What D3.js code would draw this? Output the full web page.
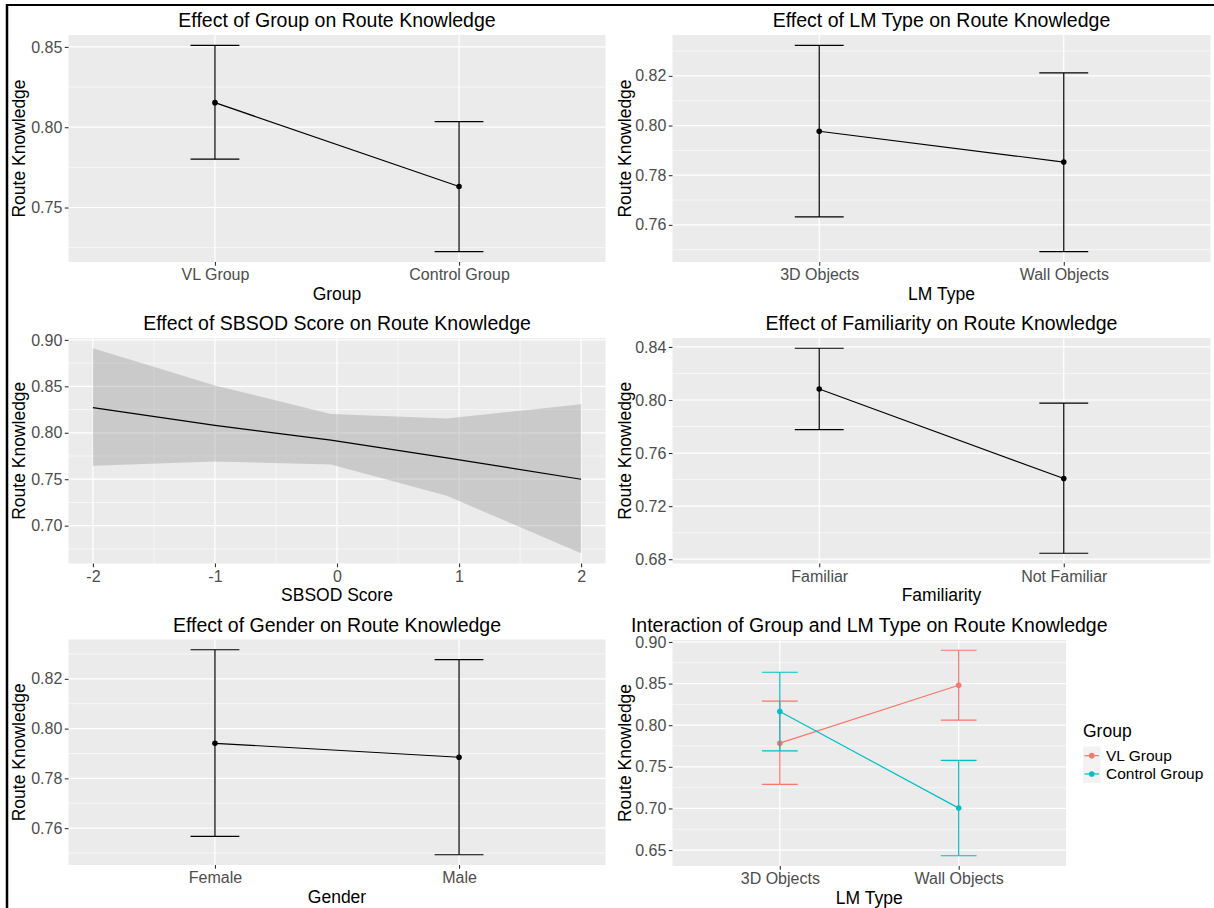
<!DOCTYPE html>
<html>
<head>
<meta charset="utf-8">
<script src="https://cdn.jsdelivr.net/npm/d3@7"></script>
<style>
  body { margin: 0; background: #fff; }
  text { font-family: "Liberation Sans", Arial, sans-serif; }
</style>
</head>
<body>
<div id="chart"></div>
<script>
// effect estimates
const groupCats = ["VL Group", "Control Group"];
const groupFit = [0.8153, 0.7631];
const groupLower = [0.7801, 0.7225];
const groupUpper = [0.8510, 0.8035];
const groupTicks = [0.75, 0.80, 0.85];

const lmCats = ["3D Objects", "Wall Objects"];
const lmFit = [0.7977, 0.7853];
const lmLower = [0.7632, 0.7492];
const lmUpper = [0.8323, 0.8212];
const lmTicks = [0.76, 0.78, 0.80, 0.82];

const sbsodX = [-2, -1, -0.05, 0.9, 2];
const sbsodFit = [0.827, 0.808, 0.792, 0.773, 0.750];
const sbsodLower = [0.7645, 0.7692, 0.7659, 0.7321, 0.6703];
const sbsodUpper = [0.8910, 0.8510, 0.8202, 0.8155, 0.8306];
const sbsodXTicks = [-2, -1, 0, 1, 2];
const sbsodTicks = [0.70, 0.75, 0.80, 0.85, 0.90];

const famCats = ["Familiar", "Not Familiar"];
const famFit = [0.8083, 0.7408];
const famLower = [0.7776, 0.6845];
const famUpper = [0.8390, 0.7977];
const famTicks = [0.68, 0.72, 0.76, 0.80, 0.84];

const genderCats = ["Female", "Male"];
const genderFit = [0.7941, 0.7885];
const genderLower = [0.7567, 0.7493];
const genderUpper = [0.8317, 0.8277];
const genderTicks = [0.76, 0.78, 0.80, 0.82];

// interaction Group x LM Type
const interGroups = ["VL Group", "Control Group"];
const interColors = ["#F8766D", "#00BFC4"];
const vlFit = [0.7784, 0.8480];
const vlLower = [0.7288, 0.8060];
const vlUpper = [0.8289, 0.8900];
const ctrlFit = [0.8164, 0.7004];
const ctrlLower = [0.7692, 0.6432];
const ctrlUpper = [0.8636, 0.7577];
const interTicks = [0.65, 0.70, 0.75, 0.80, 0.85, 0.90];

const W = 1214, H = 908;
const svg = d3.select("#chart").append("svg").attr("width", W).attr("height", H);

// outer frame (top and left edges visible)
svg.append("line").attr("x1", 6).attr("x2", W).attr("y1", 5).attr("y2", 5)
  .attr("stroke", "#000").attr("stroke-width", 2);
svg.append("line").attr("x1", 7).attr("x2", 7).attr("y1", 4).attr("y2", H)
  .attr("stroke", "#000").attr("stroke-width", 2.5);

// set up one ggplot-like panel, returns the y scale and a group to draw in
function panel(box, title, xTitle, lo, hi, yTicks, xScale, xTicks, minorX) {
  const pad = (hi - lo) * 0.05;
  const y = d3.scaleLinear().domain([lo - pad, hi + pad]).range([box.b, box.t]);
  const g = svg.append("g");

  g.append("rect").attr("x", box.l).attr("y", box.t)
    .attr("width", box.r - box.l).attr("height", box.b - box.t).attr("fill", "#EBEBEB");

  // minor horizontal grid
  const step = yTicks[1] - yTicks[0];
  const minors = [yTicks[0] - step / 2].concat(yTicks.map(t => t + step / 2))
    .filter(v => v > y.domain()[0] && v < y.domain()[1]);
  g.selectAll(".minorY").data(minors).join("line")
    .attr("x1", box.l).attr("x2", box.r)
    .attr("y1", d => y(d)).attr("y2", d => y(d))
    .attr("stroke", "#fff").attr("stroke-width", 0.6);
  if (minorX) {
    g.selectAll(".minorX").data(minorX).join("line")
      .attr("y1", box.t).attr("y2", box.b)
      .attr("x1", d => xScale(d)).attr("x2", d => xScale(d))
      .attr("stroke", "#fff").attr("stroke-width", 0.6);
  }
  g.selectAll(".majorY").data(yTicks).join("line")
    .attr("x1", box.l).attr("x2", box.r)
    .attr("y1", d => y(d)).attr("y2", d => y(d))
    .attr("stroke", "#fff").attr("stroke-width", 1.2);
  g.selectAll(".majorX").data(xTicks).join("line")
    .attr("y1", box.t).attr("y2", box.b)
    .attr("x1", d => xScale(d)).attr("x2", d => xScale(d))
    .attr("stroke", "#fff").attr("stroke-width", 1.2);

  // axes
  const yAxis = g.append("g").attr("transform", `translate(${box.l},0)`)
    .call(d3.axisLeft(y).tickValues(yTicks).tickFormat(d3.format(".2f")).tickSize(3.7).tickPadding(2.5));
  const xAxis = g.append("g").attr("transform", `translate(0,${box.b})`)
    .call(d3.axisBottom(xScale).tickValues(xTicks).tickFormat(d => String(d).replace("-", "-")).tickSize(3.7).tickPadding(3));
  [yAxis, xAxis].forEach(a => {
    a.select(".domain").remove();
    a.selectAll(".tick line").attr("stroke", "#333333").attr("stroke-width", 1.1);
    a.selectAll(".tick text").attr("fill", "#4D4D4D").style("font-size", "16px")
      .style("font-family", '"Liberation Sans", Arial, sans-serif');
  });

  // titles
  const cx = (box.l + box.r) / 2;
  svg.append("text").attr("x", cx).attr("y", box.t - 8).attr("text-anchor", "middle")
    .style("font-size", "19.5px").attr("fill", "#000").text(title);
  svg.append("text").attr("x", cx).attr("y", box.b + 37.5).attr("text-anchor", "middle")
    .style("font-size", "17.5px").attr("fill", "#000").text(xTitle);
  const ty = (box.t + box.b) / 2;
  svg.append("text").attr("transform", `translate(${box.yt},${ty}) rotate(-90)`)
    .attr("text-anchor", "middle").style("font-size", "17.5px").attr("fill", "#000")
    .text("Route Knowledge");

  return { y, g };
}

function effectPanel(box, title, xTitle, cats, fit, lower, upper, yTicks, color) {
  const x = d3.scalePoint().domain(cats).range([box.l, box.r]).padding(0.6);
  const p = panel(box, title, xTitle, d3.min(lower), d3.max(upper), yTicks, x, cats);
  drawSeries(p.g, x, p.y, cats, fit, lower, upper, color || "#000");
}

function drawSeries(g, x, y, cats, fit, lower, upper, color) {
  const hw = x.step() * 0.1;
  const rows = cats.map((c, i) => ({ c, f: fit[i], lo: lower[i], hi: upper[i] }));
  g.append("path").datum(rows)
    .attr("d", d3.line().x(d => x(d.c)).y(d => y(d.f)))
    .attr("fill", "none").attr("stroke", color).attr("stroke-width", 1.2);
  const eb = g.append("g").attr("stroke", color).attr("stroke-width", 1.2).attr("fill", "none");
  eb.selectAll(".v").data(rows).join("line")
    .attr("x1", d => x(d.c)).attr("x2", d => x(d.c))
    .attr("y1", d => y(d.lo)).attr("y2", d => y(d.hi));
  eb.selectAll(".top").data(rows).join("line")
    .attr("x1", d => x(d.c) - hw).attr("x2", d => x(d.c) + hw)
    .attr("y1", d => y(d.hi)).attr("y2", d => y(d.hi));
  eb.selectAll(".bot").data(rows).join("line")
    .attr("x1", d => x(d.c) - hw).attr("x2", d => x(d.c) + hw)
    .attr("y1", d => y(d.lo)).attr("y2", d => y(d.lo));
  g.selectAll(null).data(rows).join("circle")
    .attr("cx", d => x(d.c)).attr("cy", d => y(d.f)).attr("r", 2.8).attr("fill", color);
}

const leftBox = { l: 68.5, r: 605.5, yt: 25 };
const rightBox = { l: 672.5, r: 1210.5, yt: 630.5 };

effectPanel({ ...leftBox, t: 35, b: 262 }, "Effect of Group on Route Knowledge", "Group",
  groupCats, groupFit, groupLower, groupUpper, groupTicks);

effectPanel({ ...rightBox, t: 35, b: 262 }, "Effect of LM Type on Route Knowledge", "LM Type",
  lmCats, lmFit, lmLower, lmUpper, lmTicks);

// SBSOD continuous panel
(function () {
  const box = { ...leftBox, t: 338, b: 563.5 };
  const x = d3.scaleLinear().domain([-2.2, 2.2]).range([box.l, box.r]);
  const p = panel(box, "Effect of SBSOD Score on Route Knowledge", "SBSOD Score",
    d3.min(sbsodLower), d3.max(sbsodUpper), sbsodTicks, x, sbsodXTicks, [-1.5, -0.5, 0.5, 1.5]);
  const rows = sbsodX.map((v, i) => ({ x: v, f: sbsodFit[i], lo: sbsodLower[i], hi: sbsodUpper[i] }));
  p.g.append("path").datum(rows)
    .attr("d", d3.area().x(d => x(d.x)).y0(d => p.y(d.lo)).y1(d => p.y(d.hi)))
    .attr("fill", "#999999").attr("fill-opacity", 0.4);
  p.g.append("path").datum(rows)
    .attr("d", d3.line().x(d => x(d.x)).y(d => p.y(d.f)))
    .attr("fill", "none").attr("stroke", "#000").attr("stroke-width", 1.2);
})();

effectPanel({ ...rightBox, t: 338, b: 563.5 }, "Effect of Familiarity on Route Knowledge", "Familiarity",
  famCats, famFit, famLower, famUpper, famTicks);

effectPanel({ ...leftBox, t: 639.5, b: 865 }, "Effect of Gender on Route Knowledge", "Gender",
  genderCats, genderFit, genderLower, genderUpper, genderTicks);

// interaction panel with legend
(function () {
  const box = { l: 672.5, r: 1066, t: 640, b: 866, yt: 630.5 };
  const x = d3.scalePoint().domain(lmCats).range([box.l, box.r]).padding(0.6);
  const lo = d3.min(vlLower.concat(ctrlLower)), hi = d3.max(vlUpper.concat(ctrlUpper));
  const p = panel(box, "Interaction of Group and LM Type on Route Knowledge", "LM Type",
    lo, hi, interTicks, x, lmCats);
  drawSeries(p.g, x, p.y, lmCats, vlFit, vlLower, vlUpper, interColors[0]);
  drawSeries(p.g, x, p.y, lmCats, ctrlFit, ctrlLower, ctrlUpper, interColors[1]);

  const lg = svg.append("g").attr("transform", "translate(1083,737)");
  lg.append("text").attr("x", 0).attr("y", 0).style("font-size", "17.5px").text("Group");
  const keyH = 18.3;
  lg.selectAll(".kb").data(interGroups).join("rect")
    .attr("x", 0).attr("y", (d, i) => 9.5 + i * keyH).attr("width", 17.5).attr("height", keyH)
    .attr("fill", "#F2F2F2");
  lg.selectAll(".kl").data(interGroups).join("line")
    .attr("x1", 1.5).attr("x2", 16).attr("y1", (d, i) => 9.5 + keyH / 2 + i * keyH)
    .attr("y2", (d, i) => 9.5 + keyH / 2 + i * keyH)
    .attr("stroke", (d, i) => interColors[i]).attr("stroke-width", 1.2);
  lg.selectAll(".kp").data(interGroups).join("circle")
    .attr("cx", 8.75).attr("cy", (d, i) => 9.5 + keyH / 2 + i * keyH).attr("r", 2.8)
    .attr("fill", (d, i) => interColors[i]);
  lg.selectAll(".kt").data(interGroups).join("text")
    .attr("x", 23).attr("y", (d, i) => 9.5 + keyH / 2 + i * keyH + 5.5)
    .style("font-size", "15.5px").text(d => d);
})();
</script>
</body>
</html>
